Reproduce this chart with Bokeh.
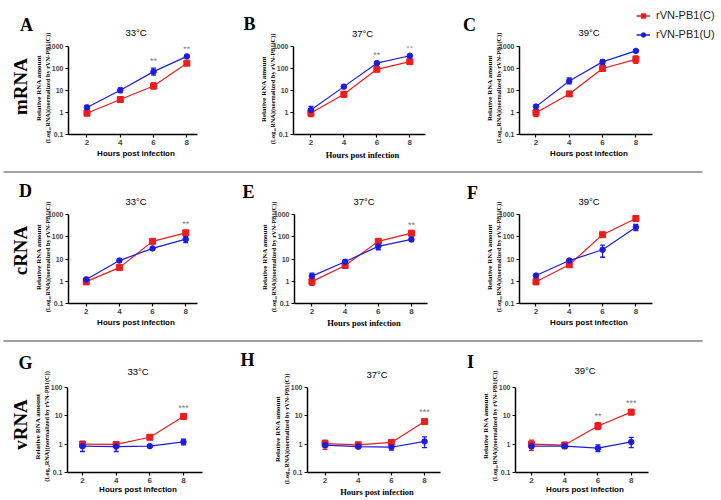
import math
from bokeh.plotting import figure
from bokeh.models import (Whisker, TeeHead, ColumnDataSource, FixedTicker,
                          CustomJSTickFormatter, Legend, LegendItem, Range1d, GridBox)
from bokeh.layouts import column, row
from bokeh.core.properties import value
from bokeh.embed import file_html
from bokeh.resources import INLINE

# ---------------- data ----------------
hours = [2, 4, 6, 8]
x_ticks = [2, 4, 6, 8]
y_ticks_rna = [0.1, 1, 10, 100, 1000]
y_ticks_vrna = [0.1, 1, 10, 100]
series_names = ["rVN-PB1(C)", "rVN-PB1(U)"]
row_names = ["mRNA", "cRNA", "vRNA"]
temps = ["33°C", "37°C", "39°C"]
letters = ["A", "B", "C", "D", "E", "F", "G", "H", "I"]
x_label = "Hours post infection"
y_label_1 = "Relative RNA amount"
y_label_2 = "(Log\u2081\u2080RNA)(normalized by rVN-PB1(C))"

# mRNA
A_C = [0.93, 3.9, 16, 175];   A_C_lo = [0.85, 3.2, 12, 155];   A_C_hi = [1.02, 4.6, 22, 195]
A_U = [1.7, 10.2, 72, 355];   A_U_lo = [1.35, 8.0, 50, 330];   A_U_hi = [2.1, 13, 105, 390]
B_C = [0.95, 6.8, 92, 205];   B_C_lo = [0.65, 5.0, 80, 185];   B_C_hi = [1.2, 8.5, 110, 225]
B_U = [1.3, 15, 175, 380];    B_U_lo = [0.75, 12.5, 155, 350]; B_U_hi = [1.9, 17.5, 200, 410]
C_C = [0.97, 7.0, 100, 260];  C_C_lo = [0.65, 5.5, 85, 170];   C_C_hi = [1.3, 9.0, 118, 370]
C_U = [1.85, 27, 200, 630];   C_U_lo = [1.4, 20, 155, 570];    C_U_hi = [2.3, 37, 250, 680]
# cRNA
D_C = [0.96, 4.1, 62, 150];   D_C_lo = [0.7, 3.5, 52, 120];    D_C_hi = [1.2, 4.7, 72, 180]
D_U = [1.2, 8.5, 30, 78];     D_U_lo = [0.95, 7, 27, 55];      D_U_hi = [1.5, 10, 34, 105]
E_C = [0.96, 5.1, 62, 145];   E_C_lo = [0.65, 4.5, 45, 115];   E_C_hi = [1.2, 5.8, 82, 175]
E_U = [1.7, 7.5, 37, 76];     E_U_lo = [1.3, 6.3, 26, 60];     E_U_hi = [2.3, 9, 50, 95]
F_C = [0.95, 5.5, 124, 660];  F_C_lo = [0.7, 4.5, 100, 540];   F_C_hi = [1.2, 6.6, 150, 800]
F_U = [1.8, 8.5, 26, 270];    F_U_lo = [1.5, 7, 12, 190];      F_U_hi = [2.1, 10, 42, 360]
# vRNA
G_C = [1.0, 0.98, 1.75, 9.5]; G_C_lo = [0.75, 0.85, 1.65, 9.0]; G_C_hi = [1.2, 1.1, 1.85, 10.2]
G_U = [0.85, 0.82, 0.85, 1.2]; G_U_lo = [0.55, 0.55, 0.8, 0.95]; G_U_hi = [1.25, 1.05, 0.9, 1.5]
H_C = [1.05, 0.95, 1.15, 6.3]; H_C_lo = [0.65, 0.85, 1.0, 5.0]; H_C_hi = [1.4, 1.05, 1.3, 7.6]
H_U = [0.93, 0.82, 0.78, 1.25]; H_U_lo = [0.75, 0.7, 0.62, 0.75]; H_U_hi = [1.1, 0.95, 0.95, 1.8]
I_C = [1.0, 0.93, 4.4, 13.5]; I_C_lo = [0.6, 0.8, 3.3, 11];    I_C_hi = [1.4, 1.15, 5.7, 16]
I_U = [0.85, 0.85, 0.72, 1.2]; I_U_lo = [0.7, 0.7, 0.55, 0.75]; I_U_hi = [1.05, 1.0, 0.95, 1.75]

# significance marks: (hour, label)
A_sig = [(6, "**"), (8, "**")]
B_sig = [(6, "**"), (8, "**")]
C_sig = [(8, "**")]
D_sig = [(8, "**")]
E_sig = [(8, "**")]
F_sig = [(8, "***")]
G_sig = [(8, "***")]
H_sig = [(8, "***")]
I_sig = [(6, "**"), (8, "***")]

DATA = {
    "A": (A_C, A_C_lo, A_C_hi, A_U, A_U_lo, A_U_hi, A_sig),
    "B": (B_C, B_C_lo, B_C_hi, B_U, B_U_lo, B_U_hi, B_sig),
    "C": (C_C, C_C_lo, C_C_hi, C_U, C_U_lo, C_U_hi, C_sig),
    "D": (D_C, D_C_lo, D_C_hi, D_U, D_U_lo, D_U_hi, D_sig),
    "E": (E_C, E_C_lo, E_C_hi, E_U, E_U_lo, E_U_hi, E_sig),
    "F": (F_C, F_C_lo, F_C_hi, F_U, F_U_lo, F_U_hi, F_sig),
    "G": (G_C, G_C_lo, G_C_hi, G_U, G_U_lo, G_U_hi, G_sig),
    "H": (H_C, H_C_lo, H_C_hi, H_U, H_U_lo, H_U_hi, H_sig),
    "I": (I_C, I_C_lo, I_C_hi, I_U, I_U_lo, I_U_hi, I_sig),
}

# ---------------- layout (page pixel coords) ----------------
W, H = 721, 500
RED = "#ee1c1c"
BLUE = "#1c1ce0"
GRAY = "#808080"
SANS = "Liberation Sans"
SERIF = "Liberation Serif"

col_x = [0, 239, 468]
col_w = [239, 229, 253]
row_y = [0, 172, 341]
row_h = [172, 169, 159]

FRAMES = {
    "A": (68, 45, 197, 134), "B": (293, 46, 425, 135), "C": (519, 45, 652, 134),
    "D": (68, 214, 197, 303), "E": (294, 214, 427, 303), "F": (519, 214, 652, 303),
    "G": (67, 384, 202, 472), "H": (307, 387, 440, 474), "I": (515, 383, 648, 472),
}
XR = {
    "A": (0.89, 8.64), "B": (0.945, 8.95), "C": (1.01, 9.0),
    "D": (0.93, 8.71), "E": (0.95, 8.97), "F": (1.01, 9.0),
    "G": (1.11, 9.13), "H": (0.94, 8.96), "I": (1.04, 9.04),
}
LETTER_POS = {
    "A": (26, 24), "B": (249, 23), "C": (469, 24),
    "D": (25, 190), "E": (248, 191), "F": (472, 192),
    "G": (25, 362), "H": (247, 359), "I": (470, 361),
}
ROW_LABEL_POS = [(20, 86), (20, 250), (20, 424)]
SEPARATORS = [(3, 702, 171.5), (3, 702, 340.5)]

# ---------------- background canvas for the free-floating texts ----------------
bg = figure(width=W, height=H, x_range=Range1d(0, W), y_range=Range1d(0, H),
            min_border=0, toolbar_location=None, output_backend="svg",
            x_axis_location=None, y_axis_location=None, title=None,
            background_fill_color="white", border_fill_color="white")
bg.outline_line_color = None
bg.grid.visible = False


def txt(ix, iy, text, size, font, style="normal", color="black", angle=0.0,
        align="center", baseline="middle"):
    bg.text(x=[ix], y=[H - iy], text=[text], text_font=value(font),
            text_font_size=size, text_font_style=style, text_color=color,
            angle=angle, text_align=align, text_baseline=baseline)


for x0, x1, yy in SEPARATORS:
    bg.segment(x0=[x0], y0=[H - yy], x1=[x1], y1=[H - yy],
               line_color="#a0a0a0", line_width=2)

for r in range(3):
    rx, ry = ROW_LABEL_POS[r]
    txt(rx, ry, row_names[r], "19px", SERIF, "bold", angle=math.pi / 2)

figs = {}
for r in range(3):
    for c in range(3):
        key = letters[r * 3 + c]
        fl, ft, frr, fb = FRAMES[key]
        ox, oy, w, h = col_x[c], row_y[r], col_w[c], row_h[r]
        ymax = 100 if r == 2 else 1000
        p = figure(width=w, height=h, y_axis_type="log", title=None,
                   x_range=Range1d(*XR[key]), y_range=Range1d(0.1, ymax),
                   min_border_left=fl - ox, min_border_top=ft - oy,
                   min_border_right=ox + w - frr, min_border_bottom=oy + h - fb,
                   toolbar_location=None, output_backend="svg",
                   background_fill_alpha=0, border_fill_alpha=0)
        p.outline_line_color = None
        p.xgrid.visible = False
        p.ygrid.visible = False
        for ax in (p.xaxis[0], p.yaxis[0]):
            ax.axis_line_width = 1.5
            ax.axis_line_color = "black"
            ax.major_tick_line_width = 1.2
            ax.major_tick_out = 3
            ax.major_tick_in = 0
            ax.minor_tick_line_color = None
            ax.major_label_text_font = SANS
            ax.major_label_text_font_style = "bold"
            ax.major_label_standoff = 2
        p.xaxis.ticker = FixedTicker(ticks=x_ticks)
        p.xaxis.major_label_text_font_size = "8px"
        p.yaxis.ticker = FixedTicker(ticks=(y_ticks_vrna if r == 2 else y_ticks_rna))
        p.yaxis.formatter = CustomJSTickFormatter(code="return tick.toString();")
        p.yaxis.major_label_text_font_size = "7px"

        vc, vc_lo, vc_hi, vu, vu_lo, vu_hi, sig = DATA[key]
        for vals, lo, hi, color, marker, size in ((vc, vc_lo, vc_hi, RED, "square", 6),
                                                 (vu, vu_lo, vu_hi, BLUE, "circle", 5.5)):
            src = ColumnDataSource(dict(x=hours, y=vals, lo=lo, hi=hi))
            p.line("x", "y", source=src, line_color=color, line_width=1.2)
            wk = Whisker(base="x", lower="lo", upper="hi", source=src,
                         line_color=color, line_width=1.3,
                         upper_head=TeeHead(size=5, line_color=color, line_width=1.3),
                         lower_head=TeeHead(size=5, line_color=color, line_width=1.3))
            p.add_layout(wk)
            p.scatter("x", "y", source=src, marker=marker, size=size,
                      fill_color=color, line_color=color)

        # significance asterisks above the highest error bar
        sx, sy, st = [], [], []
        for hr, lab in sig:
            i = hours.index(hr)
            top = max(vc_hi[i], vu_hi[i])
            sx.append(hr)
            sy.append(top * (1.8 if r == 2 else 2.0))
            st.append(lab)
        p.text(x=sx, y=sy, text=st, text_font=value(SANS), text_font_size="9px",
               text_color=GRAY, text_align="center", text_baseline="middle")
        figs[key] = p

        # free texts on the background canvas
        cx = (fl + frr) / 2.0
        cy = (ft + fb) / 2.0
        txt(cx + 3, ft - 13, temps[c], "9.5px", SANS)
        xl_font = SERIF if c == 1 else SANS
        xl_size = "8.5px" if c == 1 else "8px"
        txt(cx + 3, fb + (17 if r == 2 else 19), x_label, xl_size, xl_font, "bold")
        txt(fl - 30, cy - 2, y_label_1, "7px", SERIF, "bold", angle=math.pi / 2)
        txt(fl - 21, cy - 2, y_label_2, "6.3px", SERIF, "bold", angle=math.pi / 2)
        lx, ly = LETTER_POS[key]
        txt(lx, ly, key, "18px", SERIF, "bold")

# legend (top right), drawn on the background canvas with proxy renderers
nan = float("nan")
lg_src = ColumnDataSource(dict(x=[nan], y=[nan]))
lg_c_line = bg.line("x", "y", source=lg_src, line_color=RED, line_width=1.5)
lg_c_mark = bg.scatter("x", "y", source=lg_src, marker="square", size=6,
                       fill_color=RED, line_color=RED)
lg_u_line = bg.line("x", "y", source=lg_src, line_color=BLUE, line_width=1.5)
lg_u_mark = bg.scatter("x", "y", source=lg_src, marker="circle", size=6,
                       fill_color=BLUE, line_color=BLUE)
leg = Legend(items=[LegendItem(label=series_names[0], renderers=[lg_c_line, lg_c_mark]),
                    LegendItem(label=series_names[1], renderers=[lg_u_line, lg_u_mark])],
             location=(636, H - 40),
             label_text_font=SANS, label_text_font_size="11px",
             label_text_color="#222222",
             glyph_width=14, glyph_height=11, label_height=11,
             label_standoff=6, spacing=7, padding=0, margin=0,
             border_line_color=None, background_fill_alpha=0)
bg.add_layout(leg)

panels = column(
    row(figs["A"], figs["B"], figs["C"]),
    row(figs["D"], figs["E"], figs["F"]),
    row(figs["G"], figs["H"], figs["I"]),
)

page = GridBox(children=[(bg, 0, 0), (panels, 0, 0)])

open("out.html", "w").write(file_html(page, INLINE))
